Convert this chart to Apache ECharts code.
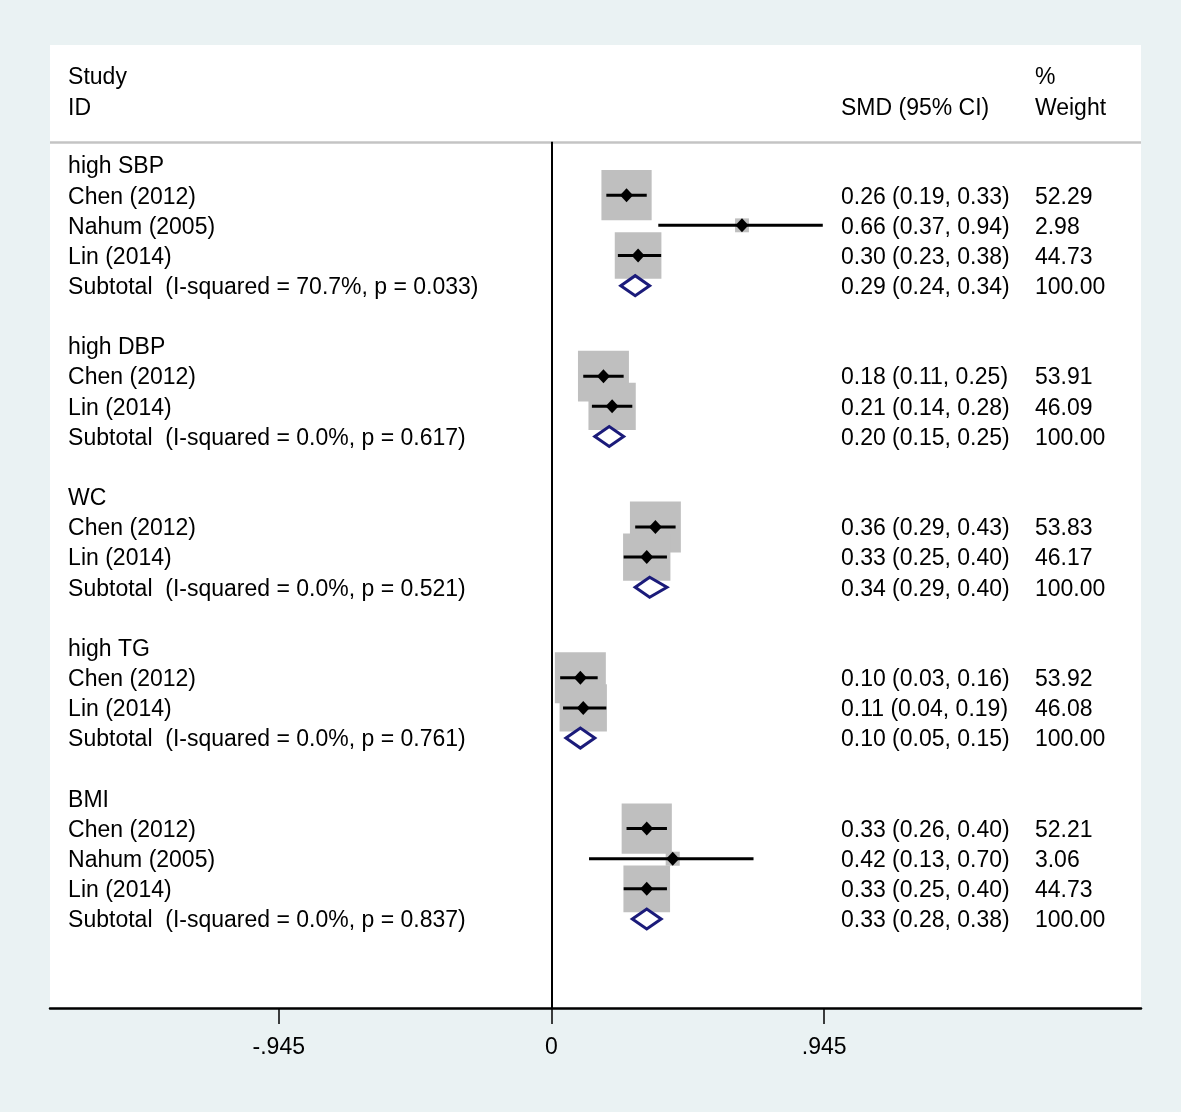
<!DOCTYPE html>
<html>
<head>
<meta charset="utf-8">
<script src="https://cdn.jsdelivr.net/npm/echarts@6/dist/echarts.min.js"></script>
<style>
html,body{margin:0;padding:0;background:#eaf2f3;}
#chart{width:1181px;height:1112px;}
</style>
</head>
<body>
<div id="chart"></div>
<script>
// ---- data ----
const rowLabels = [
  'high SBP','Chen (2012)','Nahum (2005)','Lin (2014)','Subtotal  (I-squared = 70.7%, p = 0.033)','',
  'high DBP','Chen (2012)','Lin (2014)','Subtotal  (I-squared = 0.0%, p = 0.617)','',
  'WC','Chen (2012)','Lin (2014)','Subtotal  (I-squared = 0.0%, p = 0.521)','',
  'high TG','Chen (2012)','Lin (2014)','Subtotal  (I-squared = 0.0%, p = 0.761)','',
  'BMI','Chen (2012)','Nahum (2005)','Lin (2014)','Subtotal  (I-squared = 0.0%, p = 0.837)'
];
const rowKind = [
  'g','s','s','s','t','',
  'g','s','s','t','',
  'g','s','s','t','',
  'g','s','s','t','',
  'g','s','s','s','t'
];
const smd = [
  null,0.26,0.66,0.30,0.29,null,
  null,0.18,0.21,0.20,null,
  null,0.36,0.33,0.34,null,
  null,0.10,0.11,0.10,null,
  null,0.33,0.42,0.33,0.33
];
const ciLow = [
  null,0.19,0.37,0.23,0.24,null,
  null,0.11,0.14,0.15,null,
  null,0.29,0.25,0.29,null,
  null,0.03,0.04,0.05,null,
  null,0.26,0.13,0.25,0.28
];
const ciHigh = [
  null,0.33,0.94,0.38,0.34,null,
  null,0.25,0.28,0.25,null,
  null,0.43,0.40,0.40,null,
  null,0.16,0.19,0.15,null,
  null,0.40,0.70,0.40,0.38
];
const weight = [
  null,52.29,2.98,44.73,100.00,null,
  null,53.91,46.09,100.00,null,
  null,53.83,46.17,100.00,null,
  null,53.92,46.08,100.00,null,
  null,52.21,3.06,44.73,100.00
];
const headerLeft = ['Study','ID'];
const headerCI = 'SMD (95% CI)';
const headerWeight = ['%','Weight'];
const tickValues = [-0.945, 0, 0.945];
const tickLabels = ['-.945', '0', '.945'];

// ---- layout (data-space) ----
const xMin = -1.7377, xMax = 2.0426;
const yMin = -3.979, yMax = 27.95;
const labelX = -1.675, ciX = 1.003, wtX = 1.675;
const headRow1 = -2.95, headRow2 = -1.95, sepRow = -0.77;

const FONT = '"Liberation Sans", Arial, Helvetica, sans-serif';
const FS = 23;
const TEXT_DY = 2;

function fmt(v){ return v.toFixed(2); }

const studyData = [], subtotalData = [], textData = [];
rowLabels.forEach((t, i) => {
  textData.push({ value: [labelX, i], txt: t });
  if (rowKind[i] === 's') studyData.push([smd[i], i, ciLow[i], ciHigh[i], weight[i]]);
  if (rowKind[i] === 't') subtotalData.push([smd[i], i, ciLow[i], ciHigh[i]]);
  if (rowKind[i] === 's' || rowKind[i] === 't') {
    textData.push({ value: [ciX, i], txt: fmt(smd[i]) + ' (' + fmt(ciLow[i]) + ', ' + fmt(ciHigh[i]) + ')' });
    textData.push({ value: [wtX, i], txt: fmt(weight[i]) });
  }
});
textData.push({ value: [labelX, headRow1], txt: headerLeft[0] });
textData.push({ value: [labelX, headRow2], txt: headerLeft[1] });
textData.push({ value: [ciX, headRow2], txt: headerCI });
textData.push({ value: [wtX, headRow1], txt: headerWeight[0] });
textData.push({ value: [wtX, headRow2], txt: headerWeight[1] });

const chart = echarts.init(document.getElementById('chart'));
chart.setOption({
  backgroundColor: '#eaf2f3',
  animation: false,
  grid: { left: 50, right: 40, top: 45, bottom: 104, show: true, backgroundColor: '#ffffff', borderWidth: 0 },
  xAxis: {
    type: 'value', min: xMin, max: xMax,
    axisLine: { show: true, onZero: false, lineStyle: { color: '#000', width: 2.5 } },
    axisTick: { show: true, customValues: tickValues, length: 16, lineStyle: { color: '#000', width: 1.5 } },
    axisLabel: {
      customValues: tickValues, margin: 28, color: '#000', fontSize: FS, fontFamily: FONT,
      formatter: v => { let k = 0; tickValues.forEach((t, j) => { if (Math.abs(t - v) < Math.abs(tickValues[k] - v)) k = j; }); return tickLabels[k]; }
    },
    splitLine: { show: false }
  },
  yAxis: {
    type: 'value', inverse: true, min: yMin, max: yMax, show: false,
    axisLine: { onZero: false }, splitLine: { show: false }
  },
  series: [
    {
      name: 'lines', type: 'line', data: [], silent: true,
      markLine: {
        symbol: 'none', silent: true, label: { show: false }, animation: false,
        data: [
          [{ coord: [xMin, sepRow], lineStyle: { color: '#c4c4c4', width: 2.5, type: 'solid' } }, { coord: [xMax, sepRow] }],
          [{ coord: [0, sepRow], lineStyle: { color: '#000', width: 2, type: 'solid' } }, { coord: [0, yMax] }]
        ]
      }
    },
    {
      name: 'boxes', type: 'custom', z: 3, data: studyData,
      renderItem: (params, api) => {
        const c = api.coord([api.value(0), api.value(1)]);
        const s = 6.6 * Math.sqrt(api.value(4)) + 2.5;
        return { type: 'rect', shape: { x: c[0] - s / 2, y: c[1] - s / 2, width: s, height: s }, style: { fill: '#bfbfbf' } };
      }
    },
    {
      name: 'ci', type: 'custom', z: 4, data: studyData,
      renderItem: (params, api) => {
        const c = api.coord([api.value(0), api.value(1)]);
        const a = api.coord([api.value(2), api.value(1)]);
        const b = api.coord([api.value(3), api.value(1)]);
        const hw = 6.5, hh = 7;
        return {
          type: 'group', children: [
            { type: 'line', shape: { x1: a[0], y1: a[1], x2: b[0], y2: b[1] }, style: { stroke: '#000', lineWidth: 3 } },
            { type: 'polygon', shape: { points: [[c[0] - hw, c[1]], [c[0], c[1] - hh], [c[0] + hw, c[1]], [c[0], c[1] + hh]] }, style: { fill: '#000' } }
          ]
        };
      }
    },
    {
      name: 'subtotal', type: 'custom', z: 5, data: subtotalData,
      renderItem: (params, api) => {
        const c = api.coord([api.value(0), api.value(1)]);
        const a = api.coord([api.value(2), api.value(1)]);
        const b = api.coord([api.value(3), api.value(1)]);
        const hh = 10;
        return {
          type: 'polygon',
          shape: { points: [[a[0], c[1]], [c[0], c[1] - hh], [b[0], c[1]], [c[0], c[1] + hh]] },
          style: { fill: '#ffffff', stroke: '#1b1b7a', lineWidth: 3, lineJoin: 'miter' }
        };
      }
    },
    {
      name: 'text', type: 'custom', z: 6, data: textData,
      renderItem: (params, api) => {
        const c = api.coord([api.value(0), api.value(1)]);
        return {
          type: 'text', x: c[0], y: c[1] + TEXT_DY,
          style: { text: textData[params.dataIndex].txt, fill: '#000', fontSize: FS, fontFamily: FONT, align: 'left', verticalAlign: 'middle' }
        };
      }
    }
  ]
});
</script>
</body>
</html>
